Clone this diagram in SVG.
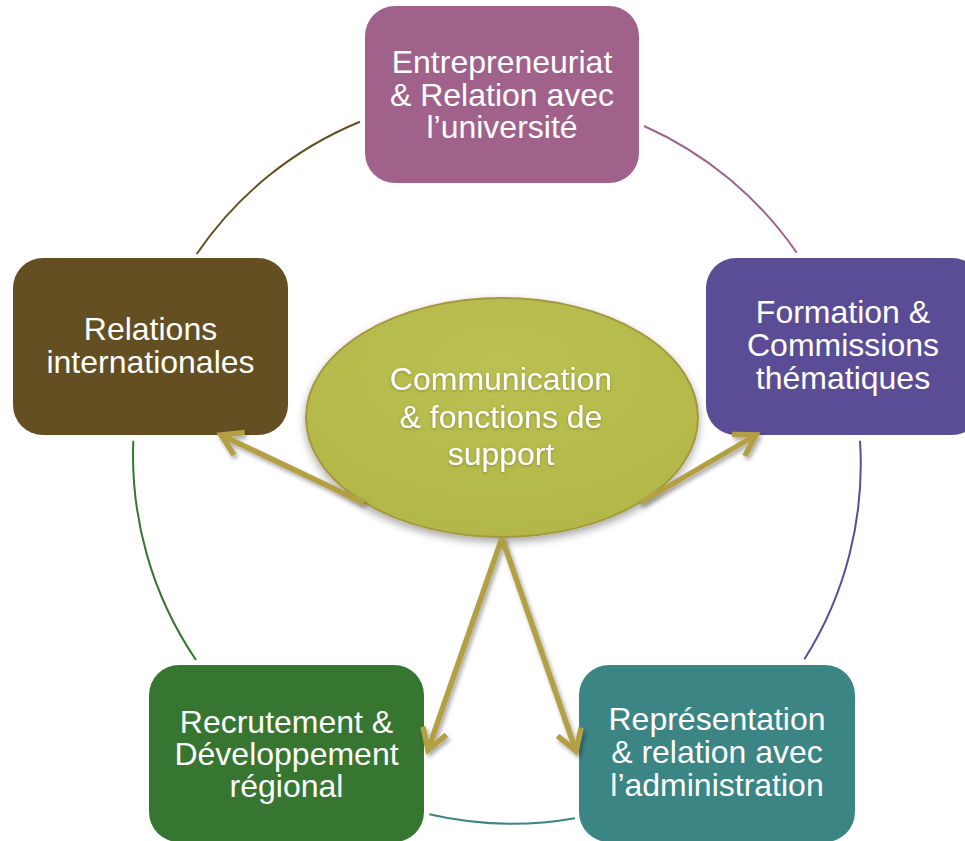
<svg xmlns="http://www.w3.org/2000/svg" width="965" height="841" viewBox="0 0 965 841">
  <defs>
    <style>
      .box-text { font-family: "Liberation Sans", Arial, sans-serif; font-size: 32px; fill: #ffffff; text-anchor: middle; }
      .arc { fill: none; stroke-width: 2; }
      .arrow { fill: none; stroke: #B3A044; stroke-width: 5.5; stroke-linecap: butt; marker-end: url(#chev); filter: url(#shadow); }
    </style>
    <marker id="chev" markerUnits="userSpaceOnUse" orient="auto" refX="0" refY="0" markerWidth="40" markerHeight="40" overflow="visible">
      <path d="M-18,-11 L0,0 L-18,11" fill="none" stroke="#B3A044" stroke-width="5.5" stroke-linejoin="miter" stroke-linecap="square"/>
    </marker>
    <filter id="shadow" x="-20%" y="-20%" width="140%" height="140%">
      <feDropShadow dx="2" dy="3" stdDeviation="2" flood-color="#000" flood-opacity="0.35"/>
    </filter>
    <filter id="eshadow" x="-10%" y="-10%" width="120%" height="130%">
      <feDropShadow dx="0" dy="4" stdDeviation="4" flood-color="#000" flood-opacity="0.35"/>
    </filter>
    <filter id="tglow" x="-10%" y="-20%" width="120%" height="140%">
      <feDropShadow dx="0" dy="1" stdDeviation="1.5" flood-color="#6b6a2a" flood-opacity="0.6"/>
    </filter>
    <radialGradient id="egrad" cx="50%" cy="30%" r="70%">
      <stop offset="0" stop-color="#BAC052"/>
      <stop offset="1" stop-color="#B2B748"/>
    </radialGradient>
  </defs>

  <g id="connectors">
    <path class="arc" stroke="#634F22" d="M196.7,254 A364.5,364.5 0 0 1 360,121.7"/>
    <path class="arc" stroke="#A0628B" d="M644,126 A364.5,364.5 0 0 1 796.7,252.7"/>
    <path class="arc" stroke="#5A4D95" d="M860,440.7 A364.5,364.5 0 0 1 804.3,659.3"/>
    <path class="arc" stroke="#3B8584" d="M575,818.3 A364.5,364.5 0 0 1 429.3,814.3"/>
    <path class="arc" stroke="#367631" d="M196,660 A364.5,364.5 0 0 1 133.3,440.7"/>
  </g>

  <g id="node-entrepreneuriat">
    <rect x="365" y="6" width="274" height="177" rx="30" ry="30" fill="#A0628B"/>
    <text class="box-text"><tspan x="502" y="73">Entrepreneuriat</tspan><tspan x="502" y="106">&amp; Relation avec</tspan><tspan x="502" y="138">l’université</tspan></text>
  </g>

  <g id="node-formation">
    <rect x="706" y="258" width="276" height="177" rx="30" ry="30" fill="#5A4D95"/>
    <text class="box-text"><tspan x="843" y="323">Formation &amp;</tspan><tspan x="843" y="356">Commissions</tspan><tspan x="843" y="388.5">thématiques</tspan></text>
  </g>

  <g id="node-relations">
    <rect x="13" y="258" width="275" height="177" rx="30" ry="30" fill="#634F22"/>
    <text class="box-text"><tspan x="150.5" y="340">Relations</tspan><tspan x="150.5" y="373">internationales</tspan></text>
  </g>

  <g id="node-recrutement">
    <rect x="149" y="665" width="275" height="177" rx="30" ry="30" fill="#367631"/>
    <text class="box-text"><tspan x="286.5" y="733">Recrutement &amp;</tspan><tspan x="286.5" y="765">Développement</tspan><tspan x="286.5" y="797">régional</tspan></text>
  </g>

  <g id="node-representation">
    <rect x="579" y="665" width="276" height="177" rx="30" ry="30" fill="#3B8584"/>
    <text class="box-text"><tspan x="717" y="730">Représentation</tspan><tspan x="717" y="762.5">&amp; relation avec</tspan><tspan x="717" y="796">l’administration</tspan></text>
  </g>

  <g id="node-communication">
    <ellipse cx="502" cy="417.5" rx="196" ry="119.5" fill="url(#egrad)" stroke="#A6973C" stroke-width="2" filter="url(#eshadow)"/>
    <text class="box-text" filter="url(#tglow)"><tspan x="501" y="390">Communication</tspan><tspan x="501" y="428">&amp; fonctions de</tspan><tspan x="501" y="465">support</tspan></text>
  </g>

  <g id="arrows">
    <path class="arrow" d="M502,298 L502,183"/>
    <path class="arrow" d="M364,503 L221,435"/>
    <path class="arrow" d="M640,503 L756,435"/>
    <path class="arrow" d="M502,538 L428,750"/>
    <path class="arrow" d="M502,538 L576,751"/>
  </g>
</svg>
